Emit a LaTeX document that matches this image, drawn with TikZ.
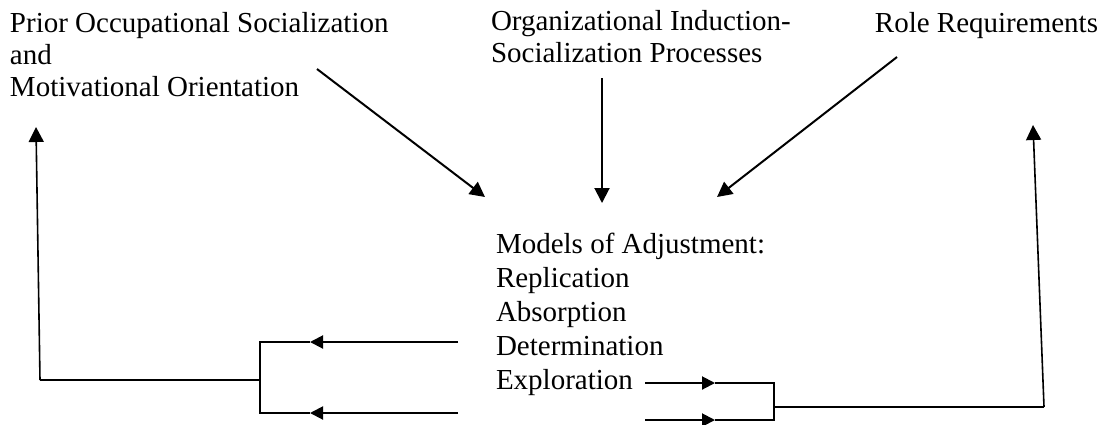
\documentclass[tikz,border=0pt]{standalone}
\usepackage{fontspec}
\setmainfont{Liberation Serif}
\usetikzlibrary{arrows.meta}

\begin{document}
\begin{tikzpicture}[
  x=0.5pt, y=-0.5pt,
  every node/.style={inner sep=0pt, outer sep=0pt},
  src/.style={align=left, font=\fontsize{14.5}{16}\selectfont},
  mdl/.style={align=left, font=\fontsize{14.5}{17}\selectfont},
  arr/.style={-{Triangle[length=7.5pt, width=7.5pt]}, line width=1pt},
  sarr/.style={-{Triangle[length=6.5pt, width=6.5pt]}, line width=1pt},
  link/.style={line width=0.65pt}
]
\useasboundingbox (0,0) rectangle (1106,424);

% influences
\node[src, anchor=north west] (prior) at (10,12)
  {Prior Occupational Socialization\\and\\Motivational Orientation};
\node[src, anchor=north west] (induct) at (491,10)
  {Organizational Induction-\\Socialization Processes};
\node[src, anchor=base east] (role) at (1098,32) {Role Requirements};

% models
\node[mdl, anchor=north west] (models) at (496,233)
  {Models of Adjustment:\\Replication\\Absorption\\Determination\\Exploration};

% arrow ends
\coordinate (priorA) at (317,69);   \coordinate (priorB) at (485,197);
\coordinate (inductA) at (602,78);  \coordinate (inductB) at (602,203);
\coordinate (roleA) at (897,57);    \coordinate (roleB) at (717,197);

\draw[arr] (priorA) -- (priorB);
\draw[arr] (inductA) -- (inductB);
\draw[arr] (roleA) -- (roleB);

% feedback to the left
\coordinate (lu0) at (458,342); \coordinate (lu1) at (310,342);
\coordinate (ld0) at (458,413); \coordinate (ld1) at (310,413);
\coordinate (lbar) at (260,380);
\coordinate (lcorner) at (40,380);  \coordinate (ltip) at (36,127);

\draw[sarr] (lu0) -- (lu1);
\draw[sarr] (ld0) -- (ld1);
\draw[link] (lu1) -| (lbar) |- (ld1);
\draw[link] (lbar) -- (lcorner);
\draw[arr, line width=0.8pt] (lcorner) -- (ltip);

% feedback to the right
\coordinate (ru0) at (645,383); \coordinate (ru1) at (715,383);
\coordinate (rd0) at (645,420); \coordinate (rd1) at (715,420);
\coordinate (rbar) at (774,407);
\coordinate (rcorner) at (1044,407); \coordinate (rtip) at (1033,125);

\draw[sarr] (ru0) -- (ru1);
\draw[sarr] (rd0) -- (rd1);
\draw[link] (ru1) -| (rbar) |- (rd1);
\draw[link] (rbar) -- (rcorner);
\draw[arr, line width=0.8pt] (rcorner) -- (rtip);
\end{tikzpicture}
\end{document}
